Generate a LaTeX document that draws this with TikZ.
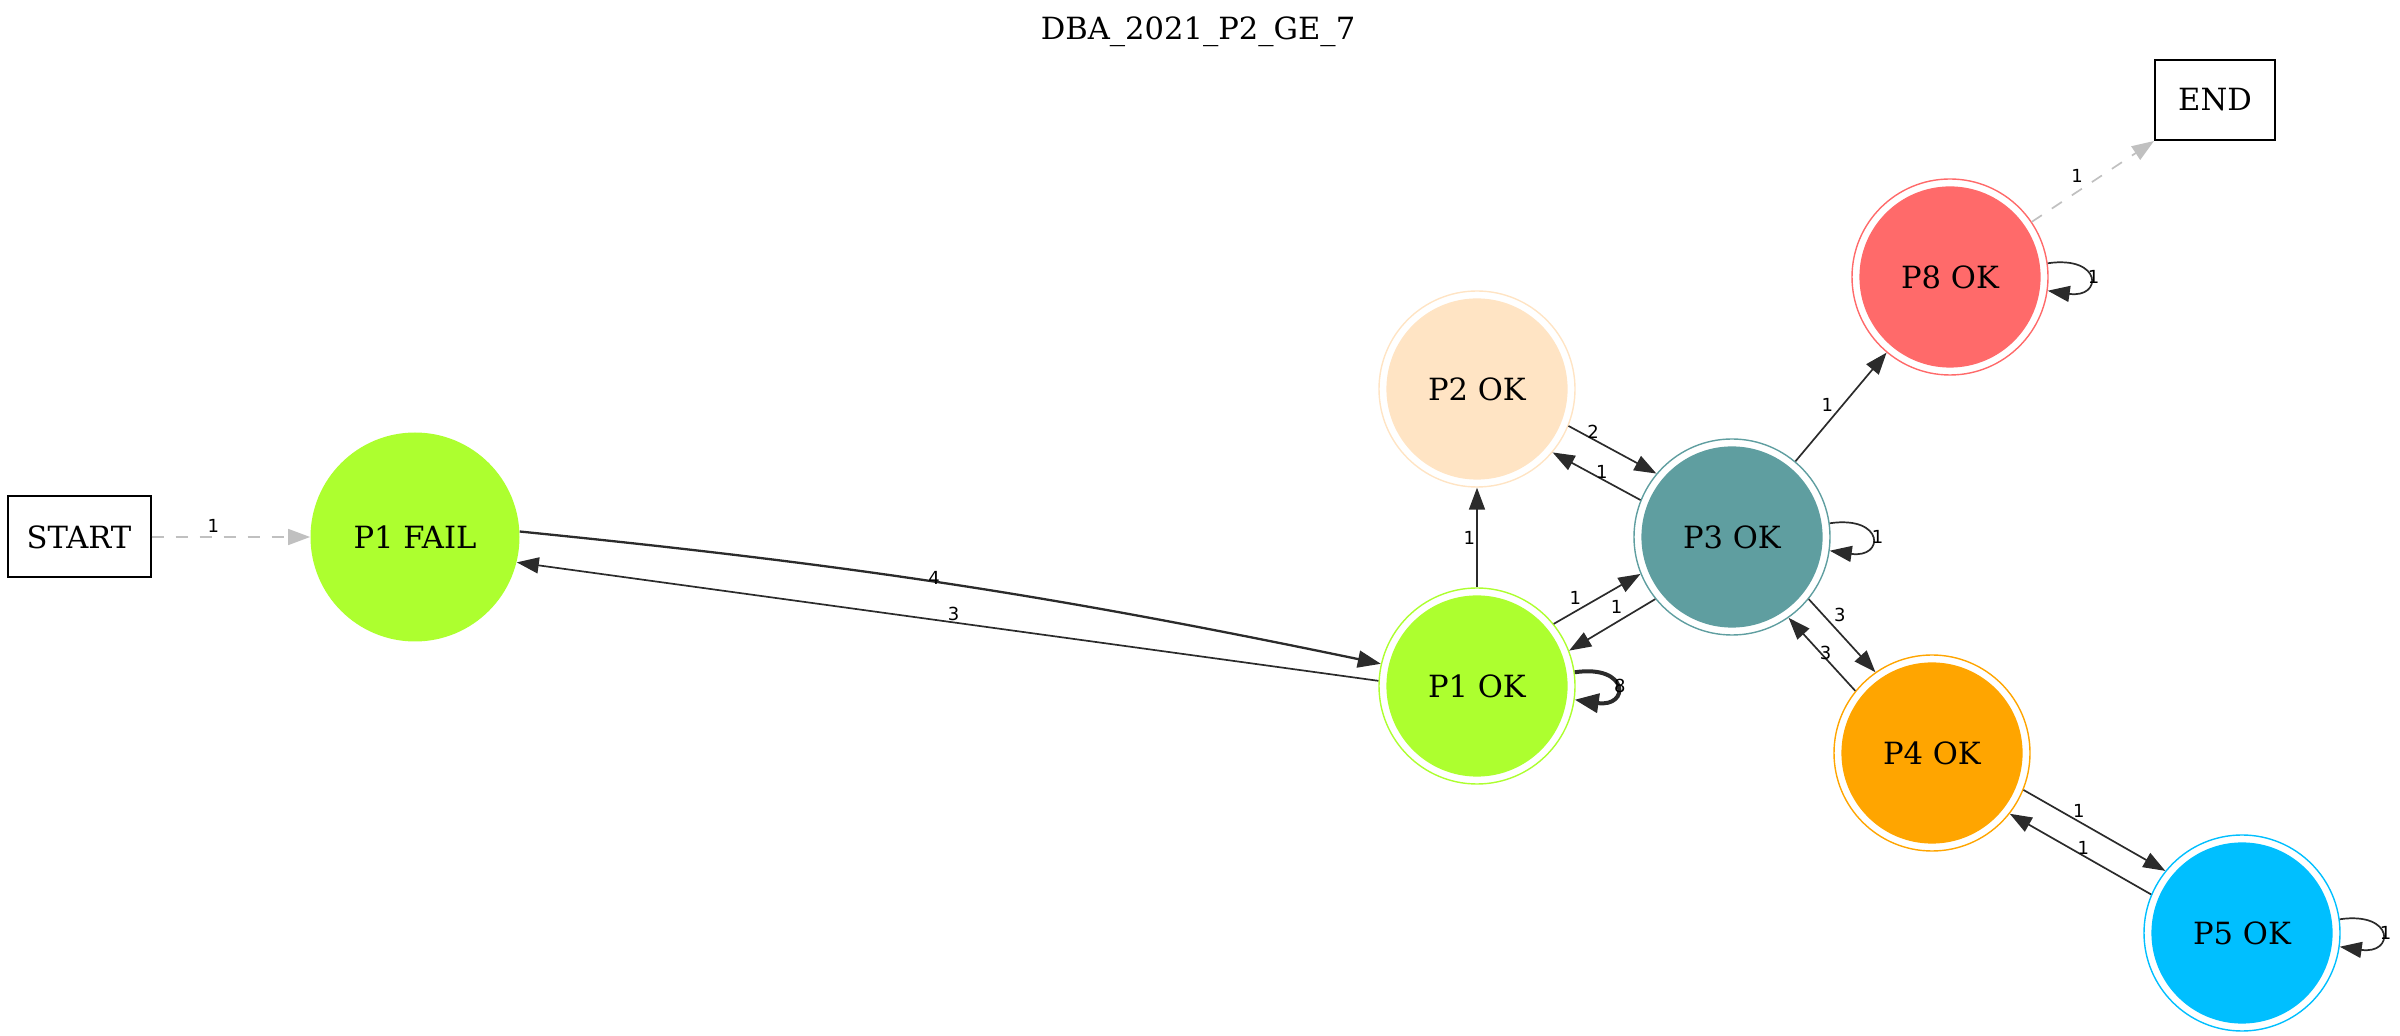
\documentclass[tikz,border=0pt]{standalone}
\usepackage{fontspec}
\setmainfont{DejaVu Serif}
\newfontfamily\lblfont{DejaVu Sans}
\usetikzlibrary{arrows.meta}
\definecolor{edgec}{HTML}{2B2B2B}
\definecolor{startc}{HTML}{C0C0C0}
\definecolor{greenyel}{HTML}{ADFF2F}
\definecolor{bisq}{HTML}{FFE4C4}
\definecolor{cadet}{HTML}{5F9EA0}
\definecolor{orng}{HTML}{FFA500}
\definecolor{skyb}{HTML}{00BFFF}
\definecolor{redc}{HTML}{FF6A6A}
\begin{document}
\begin{tikzpicture}[x=0.5pt,y=-0.5pt,
  every node/.style={font=\fontsize{15.3}{18}\selectfont},
  termbox/.style={draw=black, line width=1pt, rectangle, inner sep=0pt},
  dstate/.style={circle, draw=#1, line width=0.7pt, minimum size=98pt, inner sep=0pt,
     path picture={\fill[#1] (path picture bounding box.center) circle (45.3pt);}},
  fstate/.style={circle, fill=#1, minimum size=104.5pt, inner sep=0pt},
  tr/.style={draw=edgec, line width=0.85pt, -{Triangle[length=11pt,width=8pt]}},
  thicktr/.style={draw=edgec, line width=1.15pt, -{Triangle[length=11.5pt,width=8.5pt]}},
  loopeight/.style={draw=edgec, line width=2pt, -{Triangle[length=12pt,width=9.5pt]}},
  gtr/.style={draw=startc, line width=0.85pt, dash pattern=on 6pt off 6pt, -{Triangle[length=11pt,width=8pt]}},
  lbl/.style={font=\lblfont\fontsize{9}{10}\selectfont, inner sep=0pt, text=black},
]
\useasboundingbox (0,0) rectangle (2400,1036);

% nodes
\node (title) at (1198,32) {DBA\_2021\_P2\_GE\_7};
\node[termbox, minimum width=71.5pt, minimum height=40.5pt] (start) at (79,537) {START};
\node[fstate=greenyel] (p1fail) at (415,537) {P1 FAIL};
\node[dstate=greenyel] (p1ok) at (1477,686) {P1 OK};
\node[dstate=bisq] (p2ok) at (1477,389) {P2 OK};
\node[dstate=cadet] (p3ok) at (1732,537) {P3 OK};
\node[dstate=redc] (p8ok) at (1950,277) {P8 OK};
\node[dstate=orng] (p4ok) at (1932,753) {P4 OK};
\node[dstate=skyb] (p5ok) at (2242,933) {P5 OK};
\node[termbox, minimum width=60pt, minimum height=40pt] (end) at (2215,100) {END};

% edges
\draw[gtr] (start) -- node[lbl, pos=0.39, above=2pt]{1} (p1fail);
\draw[thicktr] (p1fail.3) to[bend left=3] node[lbl, pos=0.477, yshift=2pt]{4} (p1ok.167);
\draw[tr] (p1ok.177) -- node[lbl, pos=0.493, above=0.5pt]{3} (p1fail.-14);
\draw[tr] (p1ok.90) -- node[lbl, pos=0.5, left=0.5pt]{1} (p2ok.-90);
\draw[tr] (p2ok.-22) -- node[lbl, pos=0.28, above=0pt]{2} (p3ok.140);
\draw[tr] (p3ok.158) -- node[lbl, pos=0.44, above=0pt]{1} (p2ok.-40);
\draw[tr] (p1ok.39) -- node[lbl, pos=0.25, above=3pt]{1} (p3ok.202);
\draw[tr] (p3ok.219) -- node[lbl, pos=0.45, above=4pt]{1} (p1ok.21);
\draw[tr] (p3ok) -- node[lbl, pos=0.52, left=4.5pt]{1} (p8ok);
\draw[tr] (p3ok.-39) -- node[lbl, pos=0.22, right=5pt]{3} (p4ok.125);
\draw[tr] (p4ok.141) -- node[lbl, pos=0.52, xshift=2.5pt]{3} (p3ok.-55);
\draw[tr] (p4ok.-22) -- node[lbl, pos=0.39, above=1.5pt]{1} (p5ok.141);
\draw[tr] (p5ok.157) -- node[lbl, pos=0.48, above=0pt]{1} (p4ok.-38);
\draw[gtr] (p8ok.34) -- node[lbl, pos=0.37, above=4.5pt]{1} (end.south west);

% self loops
\draw[loopeight] (p1ok.8) .. controls +(55,-8) and +(55,8) .. node[lbl, pos=0.5, anchor=west, xshift=-2pt]{8} (p1ok.-8);
\draw[tr] (p3ok.8) .. controls +(55,-8) and +(55,8) .. node[lbl, pos=0.5, anchor=west]{1} (p3ok.-8);
\draw[tr] (p8ok.8) .. controls +(55,-8) and +(55,8) .. node[lbl, pos=0.5, anchor=west, xshift=-1pt]{1} (p8ok.-8);
\draw[tr] (p5ok.8) .. controls +(55,-8) and +(55,8) .. node[lbl, pos=0.5, anchor=west, xshift=-1pt]{1} (p5ok.-8);
\end{tikzpicture}
\end{document}
